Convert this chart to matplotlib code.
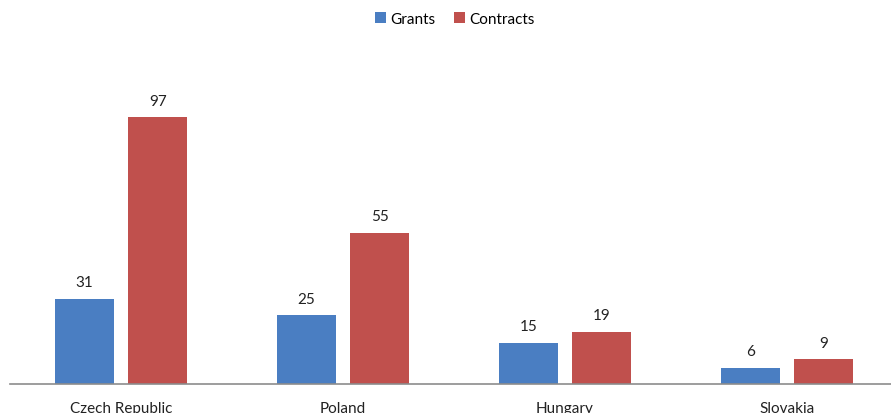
import numpy as np
import matplotlib
matplotlib.use('Agg')
import matplotlib.pyplot as plt

plt.rcParams['font.family'] = ['Lato', 'DejaVu Sans']

countries = ['Czech Republic', 'Poland', 'Hungary', 'Slovakia']
grants = [31, 25, 15, 6]
contracts = [97, 55, 19, 9]

BLUE = '#4A7EC2'
RED = '#C0504D'

fig = plt.figure(figsize=(8.91, 4.14), dpi=100)
ax = fig.add_axes([10 / 891, 29 / 414, 888 / 891, 330 / 414])

x = np.arange(len(countries))
w = 0.266
off = 0.165
b1 = ax.bar(x - off, grants, w, color=BLUE, label='Grants')
b2 = ax.bar(x + off, contracts, w, color=RED, label='Contracts')

for bars, vals in ((b1, grants), (b2, contracts)):
    for b, v in zip(bars, vals):
        ax.annotate(str(v), (b.get_x() + b.get_width() / 2, v),
                    xytext=(0, 7), textcoords='offset points',
                    ha='center', va='bottom', fontsize=11, color='#222222')

ax.set_xlim(-0.5, 3.5)
ax.set_ylim(0, 120)
ax.set_xticks(x)
ax.set_xticklabels(countries, fontsize=11, color='#222222')
ax.tick_params(axis='x', length=0, pad=12)
ax.set_yticks([])
for s in ('top', 'right', 'left'):
    ax.spines[s].set_visible(False)
ax.spines['bottom'].set_color('#8c8c8c')
ax.spines['bottom'].set_linewidth(1.2)

fig.legend(loc='center', bbox_to_anchor=(455 / 891, 1 - 20 / 414), ncol=2,
           frameon=False, fontsize=11, handlelength=0.7, handleheight=0.7,
           handletextpad=0.3, columnspacing=1.2)

fig.savefig('out.png', dpi=100)
